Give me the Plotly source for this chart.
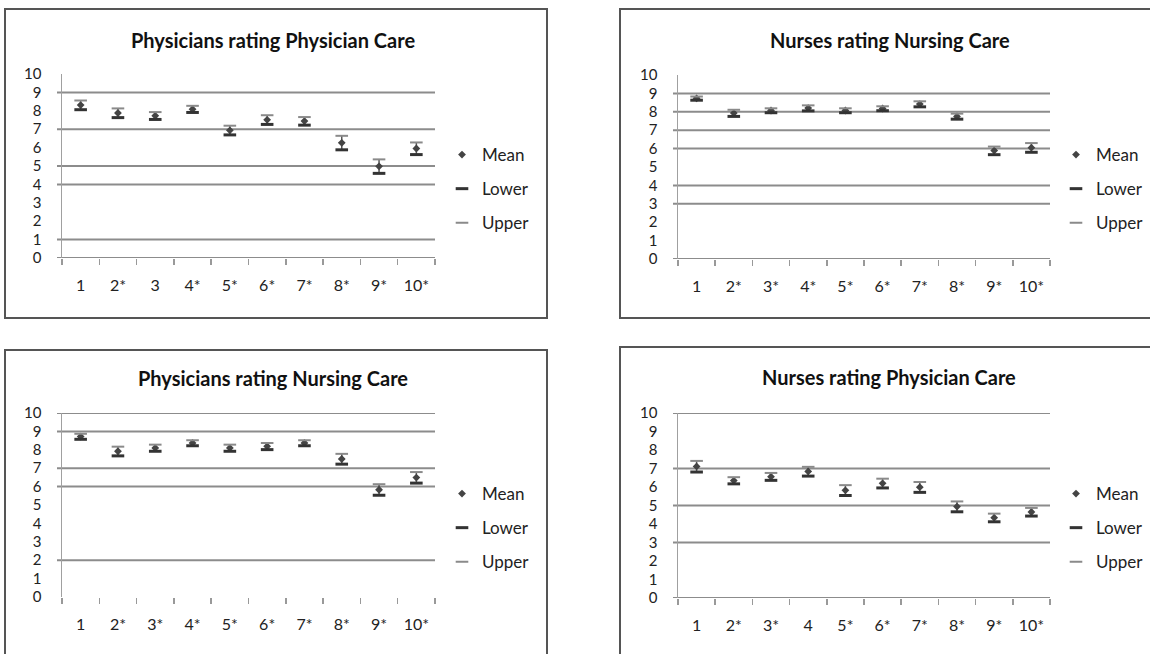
import plotly.graph_objects as go

W, H = 1150, 654
FONT = "Lato, 'Open Sans', sans-serif"

titles = ["Physicians rating Physician Care", "Nurses rating Nursing Care",
          "Physicians rating Nursing Care", "Nurses rating Physician Care"]

cats_p1 = ["1", "2*", "3", "4*", "5*", "6*", "7*", "8*", "9*", "10*"]
cats_p2 = ["1", "2*", "3*", "4*", "5*", "6*", "7*", "8*", "9*", "10*"]
cats_p3 = ["1", "2*", "3*", "4*", "5*", "6*", "7*", "8*", "9*", "10*"]
cats_p4 = ["1", "2*", "3*", "4", "5*", "6*", "7*", "8*", "9*", "10*"]

mean_p1 = [8.31, 7.88, 7.73, 8.09, 6.94, 7.51, 7.44, 6.26, 4.98, 5.95]
lower_p1 = [8.06, 7.63, 7.53, 7.91, 6.69, 7.26, 7.22, 5.88, 4.60, 5.62]
upper_p1 = [8.56, 8.13, 7.93, 8.27, 7.19, 7.76, 7.66, 6.64, 5.36, 6.28]

mean_p2 = [8.73, 7.93, 8.07, 8.20, 8.07, 8.18, 8.42, 7.75, 5.89, 6.05]
lower_p2 = [8.63, 7.75, 7.95, 8.05, 7.95, 8.06, 8.27, 7.60, 5.67, 5.80]
upper_p2 = [8.83, 8.11, 8.19, 8.35, 8.19, 8.30, 8.57, 7.90, 6.11, 6.30]

mean_p3 = [8.72, 7.92, 8.10, 8.37, 8.10, 8.19, 8.37, 7.50, 5.83, 6.49]
lower_p3 = [8.57, 7.67, 7.92, 8.22, 7.92, 8.01, 8.22, 7.22, 5.53, 6.19]
upper_p3 = [8.87, 8.17, 8.28, 8.52, 8.28, 8.37, 8.52, 7.78, 6.13, 6.79]

mean_p4 = [7.11, 6.35, 6.56, 6.84, 5.82, 6.20, 5.99, 4.94, 4.34, 4.65]
lower_p4 = [6.81, 6.17, 6.36, 6.59, 5.54, 5.95, 5.71, 4.66, 4.12, 4.43]
upper_p4 = [7.41, 6.53, 6.76, 7.09, 6.10, 6.45, 6.27, 5.22, 4.56, 4.87]

grid_p1 = [9, 7, 5, 4, 1, 0]
grid_p2 = [9, 8, 7, 6, 4, 3, 0]
grid_p3 = [10, 9, 7, 6, 2]
grid_p4 = [10, 7, 5, 3, 0]

y_ticks = list(range(0, 11))


def px(x):
    return x / W


def py(y):
    return 1 - y / H


panels = [
    dict(cats=cats_p1, mean=mean_p1, lo=lower_p1, hi=upper_p1, grid=grid_p1,
         xl=62, xr=435, y0=258, y10=74, box=(5, 9, 547, 318), tx=273, ty=40,
         leg=(442, 137)),
    dict(cats=cats_p2, mean=mean_p2, lo=lower_p2, hi=upper_p2, grid=grid_p2,
         xl=678, xr=1050, y0=259, y10=75, box=(620, 9, 1170, 318), tx=890, ty=40,
         leg=(1056, 137)),
    dict(cats=cats_p3, mean=mean_p3, lo=lower_p3, hi=upper_p3, grid=grid_p3,
         xl=62, xr=435, y0=597, y10=413, box=(5, 350, 547, 680), tx=273, ty=378,
         leg=(442, 476)),
    dict(cats=cats_p4, mean=mean_p4, lo=lower_p4, hi=upper_p4, grid=grid_p4,
         xl=678, xr=1050, y0=598, y10=413, box=(620, 347, 1170, 680), tx=889, ty=377,
         leg=(1056, 476)),
]

fig = go.Figure()
shapes = []
annotations = []
layout = {}

for i, p in enumerate(panels):
    n = i + 1
    sfx = "" if n == 1 else str(n)
    xa, ya = "x" + sfx, "y" + sfx
    legname = "legend" + sfx
    err_hi = [h - m for h, m in zip(p["hi"], p["mean"])]
    err_lo = [m - l for m, l in zip(p["mean"], p["lo"])]

    fig.add_trace(go.Scatter(
        x=p["cats"], y=p["mean"], mode="markers", name="Mean",
        xaxis=xa, yaxis=ya, legend=legname, legendgroup=f"m{n}",
        marker=dict(symbol="diamond", size=6, color="#444444"),
        error_y=dict(type="data", symmetric=False, array=err_hi, arrayminus=err_lo,
                     width=0, thickness=1.5, color="#555555"),
    ))
    fig.add_trace(go.Scatter(
        x=p["cats"], y=p["lo"], mode="markers", name="Lower",
        xaxis=xa, yaxis=ya, legend=legname, legendgroup=f"l{n}",
        marker=dict(symbol="line-ew", size=9, line=dict(width=3, color="#333333")),
    ))
    fig.add_trace(go.Scatter(
        x=p["cats"], y=p["hi"], mode="markers", name="Upper",
        xaxis=xa, yaxis=ya, legend=legname, legendgroup=f"u{n}",
        marker=dict(symbol="line-ew", size=9, line=dict(width=2, color="#8a8a8a")),
    ))

    ydom = [py(p["y0"]), py(p["y10"])]
    layout["xaxis" + sfx] = dict(
        domain=[px(p["xl"]), px(p["xr"])], anchor=ya, type="category",
        categoryorder="array", categoryarray=p["cats"], range=[-0.5, 9.5],
        tickson="boundaries", ticks="outside", ticklen=6, tickcolor="#999999",
        tickwidth=1.5, showgrid=False, zeroline=False, showline=False,
        ticklabelstandoff=16, automargin=False,
        tickfont=dict(family=FONT, size=16, color="#222222"),
        fixedrange=True,
    )
    layout["yaxis" + sfx] = dict(
        domain=ydom, anchor=xa, range=[0, 10], tickvals=y_ticks,
        ticks="", showgrid=False, zeroline=False, showline=True,
        linecolor="#a0a0a0", linewidth=1.5, ticklabelstandoff=16, automargin=False,
        tickfont=dict(family=FONT, size=15, color="#222222"), fixedrange=True,
    )
    layout[legname] = dict(
        x=px(p["leg"][0]), y=py(p["leg"][1]), xanchor="left", yanchor="top",
        font=dict(family=FONT, size=17, color="#222222"), bgcolor="rgba(0,0,0,0)",
        traceorder="grouped", tracegroupgap=9, itemwidth=30,
    )

    for g in p["grid"]:
        shapes.append(dict(type="line", xref="paper", yref=ya,
                           x0=px(p["xl"] - 5), x1=px(p["xr"]), y0=g, y1=g,
                           line=dict(color="#8c8c8c", width=2), layer="below"))
    bx0, by0, bx1, by1 = p["box"]
    shapes.append(dict(type="rect", xref="paper", yref="paper",
                       x0=px(bx0), x1=px(bx1), y0=py(by1), y1=py(by0),
                       line=dict(color="#555555", width=2), layer="below"))
    annotations.append(dict(text=f"<b>{titles[i]}</b>", xref="paper", yref="paper",
                            x=px(p["tx"]), y=py(p["ty"]), xanchor="center",
                            yanchor="middle", showarrow=False,
                            font=dict(family=FONT, size=20, color="#111111")))

fig.update_layout(
    width=W, height=H, margin=dict(l=0, r=0, t=0, b=0, autoexpand=False),
    paper_bgcolor="white", plot_bgcolor="rgba(0,0,0,0)",
    shapes=shapes, annotations=annotations, **layout,
)

fig.write_html("out.html", config={"displayModeBar": False, "staticPlot": True},
               post_script="document.body.style.margin='0';document.body.style.overflow='hidden';")
